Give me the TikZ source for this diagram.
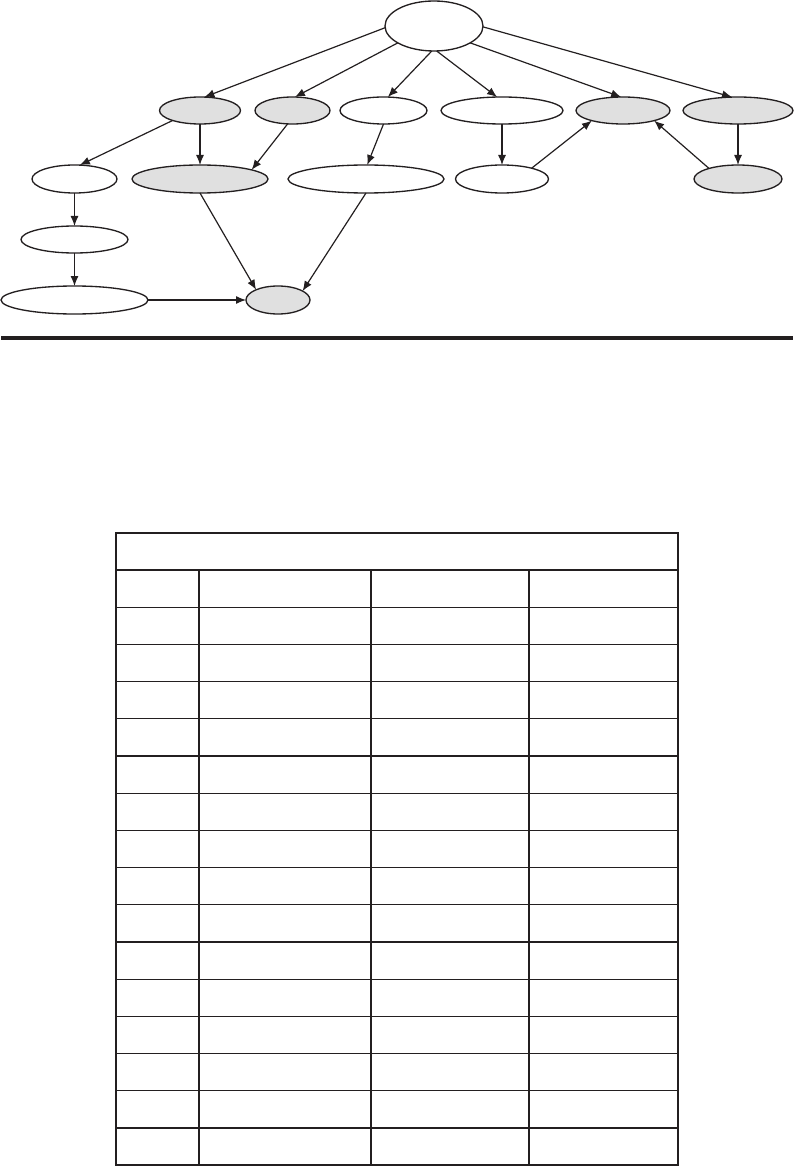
\documentclass[tikz,border=0pt]{standalone}
\usetikzlibrary{arrows.meta,shapes.geometric}

\definecolor{ink}{RGB}{35,31,32}
\definecolor{shade}{RGB}{224,224,224}

\tikzset{every picture/.style={line width=0.75pt}}
\tikzset{
  oval/.style={ellipse, draw=ink, line width=1pt, inner sep=0pt, outer sep=0pt},
  ovalg/.style={oval, fill=shade},
  link/.style={draw=ink, line width=0.9pt, -{Latex[length=7.5pt,width=6pt]}},
  grid line/.style={draw=ink, line width=0.9pt},
}

\begin{document}
\begin{tikzpicture}[x=0.75pt,y=0.75pt,yscale=-1,xscale=1]
\useasboundingbox (0,0) rectangle (794,1166);

% Ellipses, top row
\node [oval, minimum width=73.5pt, minimum height=37.5pt] (hub) at (434,26) {};
% Ellipses, second row
\node [ovalg, minimum width=60.75pt, minimum height=20.25pt] (p1) at (200,110.5) {};
\node [ovalg, minimum width=56.25pt, minimum height=20.25pt] (p2) at (292.5,110.5) {};
\node [oval, minimum width=65.25pt, minimum height=20.25pt] (p3) at (383.5,110.5) {};
\node [oval, minimum width=91.5pt, minimum height=20.25pt] (p4) at (502,110.5) {};
\node [ovalg, minimum width=70.5pt, minimum height=20.25pt] (p5) at (623,110.5) {};
\node [ovalg, minimum width=82.5pt, minimum height=20.25pt] (p6) at (738,110.5) {};
% Ellipses, third row
\node [oval, minimum width=63.75pt, minimum height=21pt] (q1) at (74.5,179) {};
\node [ovalg, minimum width=102pt, minimum height=21pt] (q2) at (200,179) {};
\node [oval, minimum width=117pt, minimum height=21pt] (q3) at (366,179) {};
\node [oval, minimum width=69.75pt, minimum height=21pt] (q4) at (502,179) {};
\node [ovalg, minimum width=66pt, minimum height=21pt] (q5) at (738,179) {};
% Ellipses, lower rows
\node [oval, minimum width=80.25pt, minimum height=20.25pt] (r1) at (74.5,239.5) {};
\node [oval, minimum width=110.25pt, minimum height=21pt] (s1) at (74.5,300) {};
\node [ovalg, minimum width=48pt, minimum height=21pt] (s2) at (278,300) {};

% Arrows from the top ellipse
\draw [link] (hub.182) -- (p1.72);
\draw [link] (hub.205) -- (p2.80);
\draw [link] (hub.265) -- (p3.72);
\draw [link] (hub.276) -- (p4.110);
\draw [link] (hub.335) -- (p5.98);
\draw [link] (hub.359) -- (p6.114);
% Arrows, second to third row
\draw [link] (p1.200) -- (q1.69);
\draw [link] (p1.south) -- (q2.north);
\draw [link] (p2.250) -- (q2.10);
\draw [link] (p3.south) -- (q3.85);
\draw [link] (p4.south) -- (q4.north);
\draw [link] (p6.south) -- (q5.north);
% Arrows back up
\draw [link] (q4.20) -- (p5.198);
\draw [link] (q5.160) -- (p5.342);
% Arrows, left column and bottom
\draw [link] (q1.south) -- (r1.north);
\draw [link] (r1.south) -- (s1.north);
\draw [link] (s1.east) -- (s2.west);
\draw [link] (q2.south) -- (s2.155);
\draw [link] (q3.south) -- (s2.20);

% Thick rule
\draw [draw=ink, line width=3pt] (1,338) -- (793,338);

% Table frame
\draw [grid line] (116,533) rectangle (678,1165);
% Table rows
\draw [grid line] (116,570) -- (678,570);
\draw [grid line] (116,607.2) -- (678,607.2);
\draw [grid line] (116,644.4) -- (678,644.4);
\draw [grid line] (116,681.6) -- (678,681.6);
\draw [grid line] (116,718.8) -- (678,718.8);
\draw [grid line] (116,756) -- (678,756);
\draw [grid line] (116,793.2) -- (678,793.2);
\draw [grid line] (116,830.4) -- (678,830.4);
\draw [grid line] (116,867.6) -- (678,867.6);
\draw [grid line] (116,904.8) -- (678,904.8);
\draw [grid line] (116,942) -- (678,942);
\draw [grid line] (116,979.2) -- (678,979.2);
\draw [grid line] (116,1016.4) -- (678,1016.4);
\draw [grid line] (116,1053.6) -- (678,1053.6);
\draw [grid line] (116,1090.8) -- (678,1090.8);
\draw [grid line] (116,1128) -- (678,1128);
% Table columns
\draw [grid line] (199,570) -- (199,1165);
\draw [grid line] (371,570) -- (371,1165);
\draw [grid line] (529,570) -- (529,1165);

\end{tikzpicture}
\end{document}
